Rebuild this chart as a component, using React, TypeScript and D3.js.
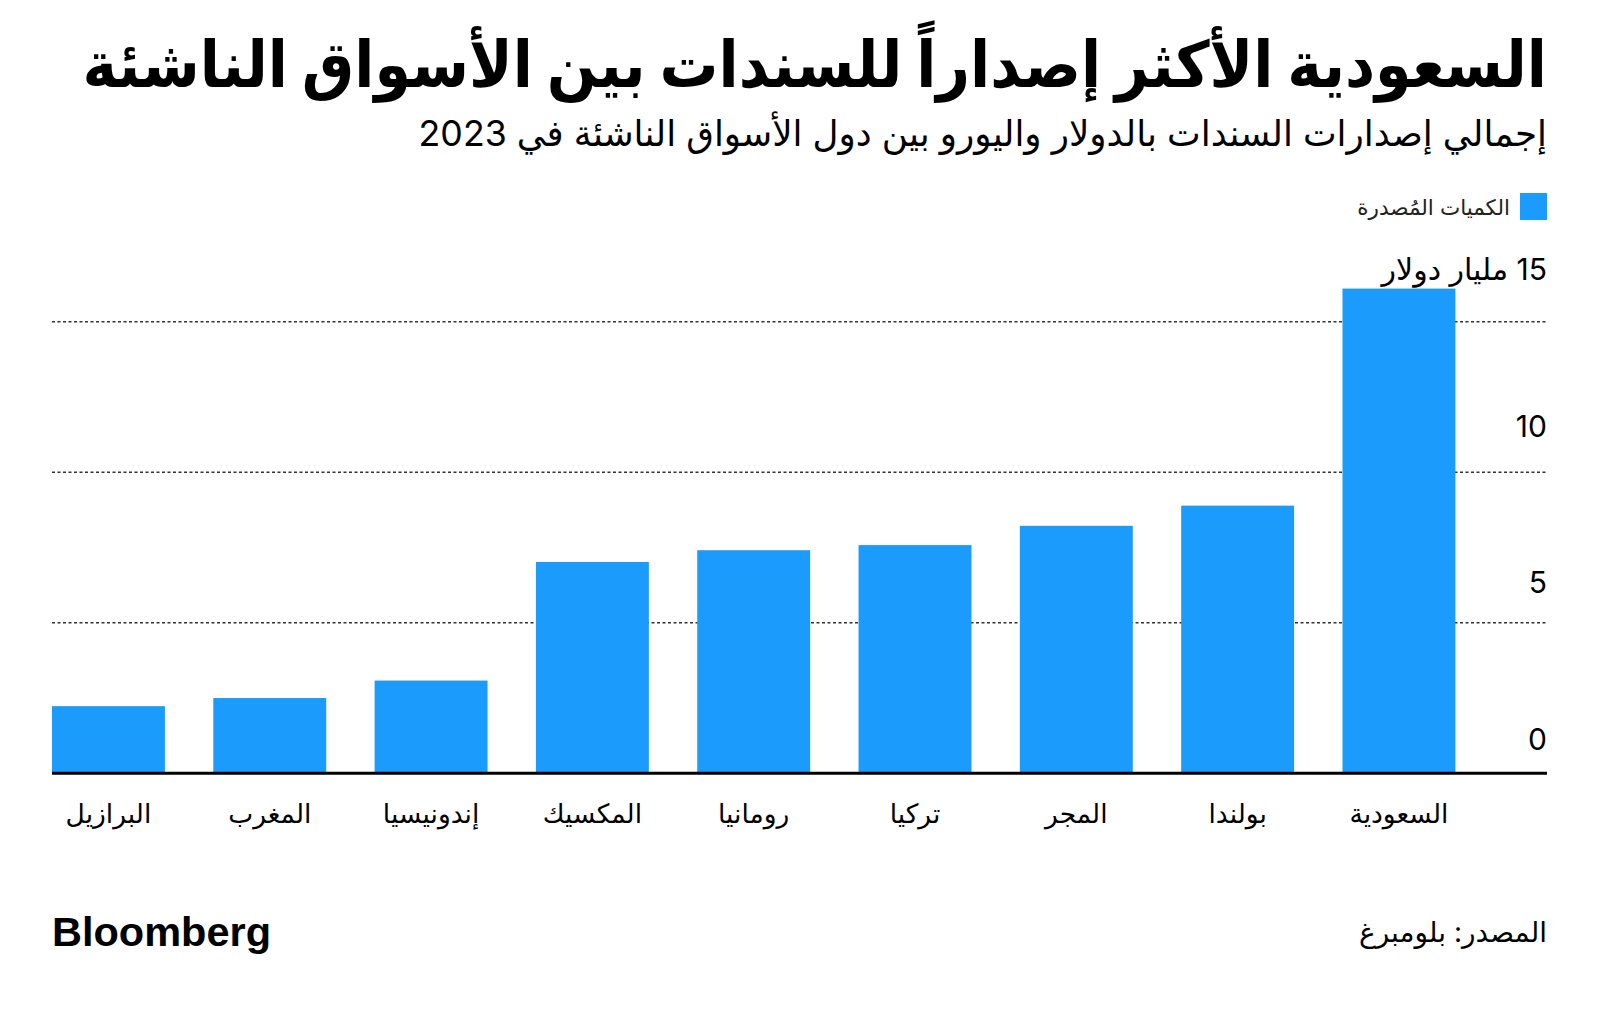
import React, { useLayoutEffect, useRef, useState } from "react";
import * as d3 from "d3";

const countries = ["البرازيل", "المغرب", "إندونيسيا", "المكسيك", "رومانيا", "تركيا", "المجر", "بولندا", "السعودية"];
const issuance = [2.23, 2.5, 3.08, 7.02, 7.41, 7.58, 8.22, 8.89, 16.1];
const yTicks = [0, 5, 10, 15];
const yTickLabels = ["0", "5", "10", "15 مليار دولار"];

const title = "السعودية الأكثر إصداراً للسندات بين الأسواق الناشئة";
const subtitle = "إجمالي إصدارات السندات بالدولار واليورو بين دول الأسواق الناشئة في 2023";
const legendLabel = "الكميات المُصدرة";
const source = "المصدر: بلومبرغ";

const W = 1600;
const H = 1011;
const LEFT = 52;
const RIGHT = 1547;
const BLUE = "#1b9bfb";
const FONT = "Inter, 'DejaVu Sans', sans-serif";

function FitText(props: {
  x: number;
  y: number;
  width: number;
  fontSize: number;
  fontWeight?: number;
  children: string;
}) {
  const ref = useRef<SVGTextElement>(null);
  const [k, setK] = useState(1);
  useLayoutEffect(() => {
    if (ref.current) {
      const w = ref.current.getBBox().width;
      if (w > 0) setK(props.width / w);
    }
  }, [props.width, props.children]);
  return (
    <g transform={`translate(${props.x},${props.y}) scale(${k},1)`}>
      <text
        ref={ref}
        x={0}
        y={0}
        direction="rtl"
        textAnchor="start"
        fontSize={props.fontSize}
        fontWeight={props.fontWeight ?? 400}
        fill="#000"
      >
        {props.children}
      </text>
    </g>
  );
}

export default function App() {
  const x = d3
    .scaleBand<string>()
    .domain(countries)
    .range([LEFT, 1455.4])
    .paddingInner(0.3)
    .paddingOuter(0);
  const y = d3.scaleLinear().domain([0, 15]).range([773.3, 321.7]);
  const yLabel = d3.scaleLinear().domain([0, 15]).range([750, 280]);

  return (
    <svg
      width={W}
      height={H}
      style={{ position: "absolute", left: 0, top: 0, background: "#fff" }}
      fontFamily={FONT}
    >
      <rect x={0} y={0} width={W} height={H} fill="#fff" />
      <FitText x={RIGHT} y={87} width={RIGHT - 82} fontSize={64} fontWeight={700}>
        {title}
      </FitText>
      <FitText x={RIGHT} y={146} width={RIGHT - 418} fontSize={36}>
        {subtitle}
      </FitText>

      <rect x={1520} y={193} width={27} height={27} fill={BLUE} />
      <text x={1510} y={215} direction="rtl" textAnchor="start" fontSize={21.5} fill="#222">
        {legendLabel}
      </text>

      {yTicks
        .filter((t) => t > 0)
        .map((t) => (
          <line
            key={"g" + t}
            x1={LEFT}
            x2={RIGHT}
            y1={y(t)}
            y2={y(t)}
            stroke="#333"
            strokeWidth={1.5}
            strokeDasharray="3,2.5"
          />
        ))}

      {countries.map((c, i) => (
        <rect
          key={c}
          x={x(c)}
          y={y(issuance[i])}
          width={x.bandwidth()}
          height={y(0) - y(issuance[i])}
          fill={BLUE}
        />
      ))}

      <line x1={LEFT} x2={RIGHT} y1={y(0)} y2={y(0)} stroke="#000" strokeWidth={3} />

      {yTicks.map((t, i) => (
        <text
          key={"l" + t}
          x={RIGHT}
          y={yLabel(t)}
          direction={i === yTicks.length - 1 ? "rtl" : "ltr"}
          textAnchor={i === yTicks.length - 1 ? "start" : "end"}
          fontSize={30}
          fill="#000"
        >
          {yTickLabels[i]}
        </text>
      ))}

      {countries.map((c) => (
        <text
          key={"x" + c}
          x={(x(c) as number) + x.bandwidth() / 2}
          y={823}
          direction="rtl"
          textAnchor="middle"
          fontSize={26.5}
          fill="#000"
        >
          {c}
        </text>
      ))}

      <text
        x={LEFT}
        y={946}
        fontSize={40}
        fontWeight={700}
        fill="#000"
        fontFamily="'Liberation Sans', Arial, sans-serif"
        textLength={219}
        lengthAdjust="spacingAndGlyphs"
      >
        Bloomberg
      </text>
      <text x={RIGHT} y={942} direction="rtl" textAnchor="start" fontSize={28} fill="#000">
        {source}
      </text>
    </svg>
  );
}
